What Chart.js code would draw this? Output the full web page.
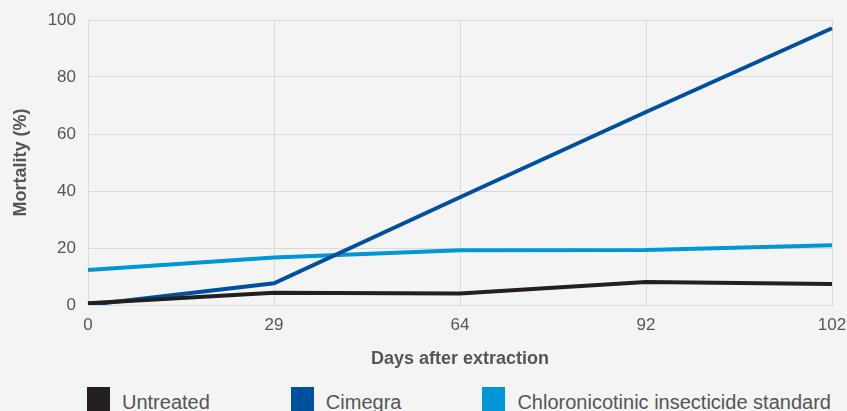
<!DOCTYPE html>
<html lang="en">
  <head>
    <meta charset="UTF-8" />
    <meta name="viewport" content="width=device-width, initial-scale=1.0" />
    <script src="https://cdn.jsdelivr.net/npm/chart.js@4.4.0/dist/chart.umd.min.js"></script>
    <title>Mortality chart</title>
    <style>
      html, body {
        margin: 0;
        padding: 0;
        background: #f4f4f4;
        overflow: hidden;
        font-family: "Liberation Sans", Arial, sans-serif;
      }
      .chart_wrap {
        position: relative;
        width: 847px;
        height: 388px;
      }
      .legend_wrap {
        display: flex;
        gap: 81px;
        padding-left: 87px;
        margin-top: -1px;
        height: 30px;
      }
      .legend_wrap .item {
        display: flex;
        align-items: center;
        height: 30px;
      }
      .legend_wrap .box {
        width: 23px;
        height: 30px;
        margin-right: 12px;
      }
      .legend_wrap .label {
        font-size: 20px;
        line-height: 30px;
        color: #555;
        white-space: nowrap;
      }
    </style>
  </head>
  <body>
    <div class="chart_wrap">
      <canvas id="myChart"></canvas>
    </div>
    <div class="legend_wrap" id="legend"></div>

    <script>
      // days after extraction
      const days = ["0", "29", "64", "92", "102"];
      const seriesNames = ["Untreated", "Cimegra", "Chloronicotinic insecticide standard"];
      const seriesColors = ["#231f20", "#0050a0", "#0096d8"];

      // mortality (%)
      const untreated = [0.6, 4.3, 4.0, 8.1, 7.4];
      const cimegra = [0, 7.6, 37.8, 67.7, 97.1];
      const chloronicotinic = [12.3, 16.7, 19.2, 19.3, 21.0];

      const yTicks = [0, 20, 40, 60, 80, 100];

      const gridColor = "#d9d9d9";
      const textColor = "#555";

      const seriesData = [untreated, cimegra, chloronicotinic];

      const data = {
        labels: days,
        datasets: seriesNames.map((name, i) => ({
          label: name,
          data: seriesData[i],
          borderColor: seriesColors[i],
          backgroundColor: seriesColors[i],
          borderWidth: 4,
          pointRadius: 0,
          tension: 0,
        })),
      };

      const config = {
        type: "line",
        data: data,
        options: {
          responsive: true,
          maintainAspectRatio: false,
          animation: false,
          layout: {
            padding: { top: 20, right: 15, bottom: 0, left: 0 },
          },
          plugins: {
            legend: { display: false },
            tooltip: { enabled: false },
          },
          scales: {
            x: {
              grid: { color: gridColor, drawTicks: false },
              border: { color: gridColor },
              ticks: {
                color: textColor,
                padding: 10,
                font: { family: "Liberation Sans", size: 17 },
              },
              title: {
                display: true,
                text: "Days after extraction",
                color: textColor,
                font: { family: "Liberation Sans", size: 18, weight: "bold" },
                padding: { top: 10, bottom: 18 },
              },
              afterFit: (scale) => {
                scale.height = 83;
                // layout padding handles the edges
                scale.paddingLeft = 0;
                scale.paddingRight = 0;
              },
            },
            y: {
              min: 0,
              max: 100,
              afterBuildTicks: (scale) => {
                scale.ticks = yTicks.map((v) => ({ value: v }));
              },
              grid: { color: gridColor, drawTicks: false },
              border: { color: gridColor },
              ticks: {
                color: textColor,
                padding: 12,
                font: { family: "Liberation Sans", size: 17 },
              },
              title: {
                display: true,
                text: "Mortality (%)",
                color: textColor,
                font: { family: "Liberation Sans", size: 18, weight: "bold" },
                padding: { top: 10, bottom: 0 },
              },
              afterFit: (scale) => {
                scale.width = 88;
                scale.paddingTop = 0;
                scale.paddingBottom = 0;
              },
            },
          },
        },
      };

      const myChart = new Chart(document.getElementById("myChart"), config);

      // html legend built from the datasets
      const legendEl = document.getElementById("legend");
      myChart.data.datasets.forEach((ds) => {
        const item = document.createElement("div");
        item.className = "item";
        const box = document.createElement("span");
        box.className = "box";
        box.style.background = ds.borderColor;
        const label = document.createElement("span");
        label.className = "label";
        label.innerText = ds.label;
        item.appendChild(box);
        item.appendChild(label);
        legendEl.appendChild(item);
      });
    </script>
  </body>
</html>
